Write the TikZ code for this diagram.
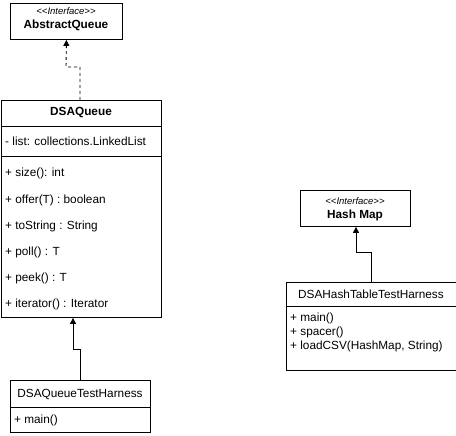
\documentclass[tikz,border=0pt]{standalone}
\usepackage{fontspec}
\setmainfont{Liberation Sans}
\usetikzlibrary{arrows.meta}
\newcommand\stereo[1]{<\kern0pt<#1>\kern0pt>}
\begin{document}
\begin{tikzpicture}[x=1pt,y=-1pt,
  box/.style={draw=black, line width=0.9pt, rectangle, inner sep=0pt, anchor=north west},
  sep/.style={draw=black, line width=0.9pt},
  txt/.style={font=\fontsize{11.8}{14}\selectfont, inner sep=0pt},
  ltxt/.style={txt, anchor=west},
  ttl/.style={font=\fontsize{11.8}{14}\selectfont\bfseries, inner sep=0pt},
  ster/.style={font=\fontsize{9.5}{11}\selectfont\itshape, inner sep=0pt},
  conn/.style={draw=black, line width=0.9pt, -{Triangle[length=6pt,width=6pt]}},
  dconn/.style={conn, dash pattern=on 3pt off 3pt}
]
\useasboundingbox (0,0) rectangle (456,436);
% AbstractQueue
\node[box, minimum width=112pt, minimum height=36pt] (aq) at (10,3) {};
\node[ster] (aqs) at (66,11) {\stereo{Interface}};
\node[ttl] (aqt) at (66,25) {AbstractQueue};
% DSAQueue
\node[box, minimum width=160pt, minimum height=217pt] (dq) at (1,100) {};
\node[ttl] (dqt) at (81,113) {DSAQueue};
\coordinate (dqs1) at (1,126);
\coordinate (dqs1e) at (161,126);
\coordinate (dqs2) at (1,156);
\coordinate (dqs2e) at (161,156);
\draw[sep] (dqs1) -- (dqs1e);
\draw[sep] (dqs2) -- (dqs2e);
\node[ltxt] (dqa) at (5,141) {- list: collections.LinkedList};
\node[ltxt] (m1) at (5,173) {+ size(): int};
\node[ltxt] (m2) at (5,200) {+ offer(T) : boolean};
\node[ltxt] (m3) at (5,226) {+ toString : String};
\node[ltxt] (m4) at (5,252) {+ poll() : T};
\node[ltxt] (m5) at (5,278) {+ peek() : T};
\node[ltxt] (m6) at (5,304) {+ iterator() : Iterator};
% DSAQueueTestHarness
\node[box, minimum width=140pt, minimum height=52pt] (qth) at (10,380) {};
\coordinate (qths) at (10,407);
\coordinate (qthse) at (150,407);
\draw[sep] (qths) -- (qthse);
\node[txt] (qtht) at (80,394) {DSAQueueTestHarness};
\node[ltxt] (qthm) at (14,420) {+ main()};
% Hash Map
\node[box, minimum width=110pt, minimum height=36pt] (hm) at (300,190) {};
\node[ster] (hms) at (355,201) {\stereo{Interface}};
\node[ttl] (hmt) at (355,215) {Hash Map};
% DSAHashTableTestHarness
\node[box, minimum width=170pt, minimum height=88pt] (hth) at (286,282) {};
\coordinate (hths) at (286,306);
\coordinate (hthse) at (456,306);
\draw[sep] (hths) -- (hthse);
\node[txt] (htht) at (371,294) {DSAHashTableTestHarness};
\node[ltxt] (h1) at (290,318) {+ main()};
\node[ltxt] (h2) at (290,332) {+ spacer()};
\node[ltxt] (h3) at (290,346) {+ loadCSV(HashMap, String)};
% connectors
\draw[dconn] (dq.north -| 80,0) |- (66,67) -- (aq.south);
\draw[conn] (qth.north) |- (73,349) -- (dq.south -| 73,0);
\draw[conn] (hth.north) |- (356,252) -- (hm.south -| 356,0);
\end{tikzpicture}
\end{document}
